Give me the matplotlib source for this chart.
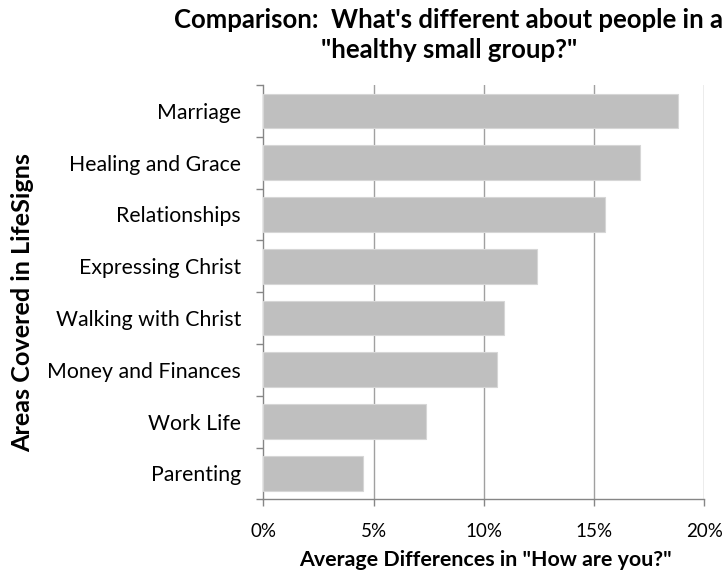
import matplotlib
matplotlib.use("Agg")
import matplotlib.pyplot as plt
import numpy as np

categories = ["Marriage", "Healing and Grace", "Relationships", "Expressing Christ",
              "Walking with Christ", "Money and Finances", "Work Life", "Parenting"]
values = [18.8, 17.1, 15.5, 12.4, 10.9, 10.6, 7.4, 4.5]
xticks = [0, 5, 10, 15, 20]
xtick_labels = ["0%", "5%", "10%", "15%", "20%"]

plt.rcParams['font.family'] = ['Lato', 'DejaVu Sans']

W, H = 725, 573
fig = plt.figure(figsize=(W / 100, H / 100), dpi=100)
ax = fig.add_axes([263.3 / W, 1 - 499.3 / H, (704.3 - 263.3) / W, (499.3 - 85) / H])

n = len(categories)
ypos = np.arange(n)[::-1]
ax.barh(ypos, values, height=0.67, color='#BFBFBF', edgecolor='#D6D6D6', linewidth=0.8, zorder=3)

ax.set_xlim(0, 20)
ax.set_ylim(-0.5, n - 0.5)
ax.set_xticks(xticks)
ax.set_xticklabels(xtick_labels, fontsize=13.5)
ax.set_yticks(ypos)
ax.set_yticklabels(categories, fontsize=15.3)
ax.set_yticks(np.arange(-0.5, n), minor=True)
ax.tick_params(axis='y', which='major', length=0, pad=16)
ax.tick_params(axis='y', which='minor', length=5, width=1, color='#868686', direction='out')
ax.tick_params(axis='x', which='major', length=5, width=1, color='#868686', direction='out', pad=12)

for x in xticks[1:]:
    ax.axvline(x, color='#A0A0A0', linewidth=1, zorder=1)

for s in ['top', 'right']:
    ax.spines[s].set_visible(False)
for s in ['left', 'bottom']:
    ax.spines[s].set_color('#868686')
    ax.spines[s].set_linewidth(1)

fig.text(449 / W, 1 - 28 / H, "Comparison:  What's different about people in a",
         fontsize=18.5, fontweight='bold', ha='center', va='baseline')
fig.text(449 / W, 1 - 58 / H, "\"healthy small group?\"",
         fontsize=18.5, fontweight='bold', ha='center', va='baseline')

fig.text(485 / W, 1 - 566 / H, "Average Differences in \"How are you?\"",
         fontsize=15.4, fontweight='bold', ha='center', va='baseline')
fig.text(23 / W, 1 - 303 / H, "Areas Covered in LifeSigns",
         fontsize=18.2, fontweight='bold', ha='center', va='center', rotation=90)

fig.savefig("out.png", dpi=100)
